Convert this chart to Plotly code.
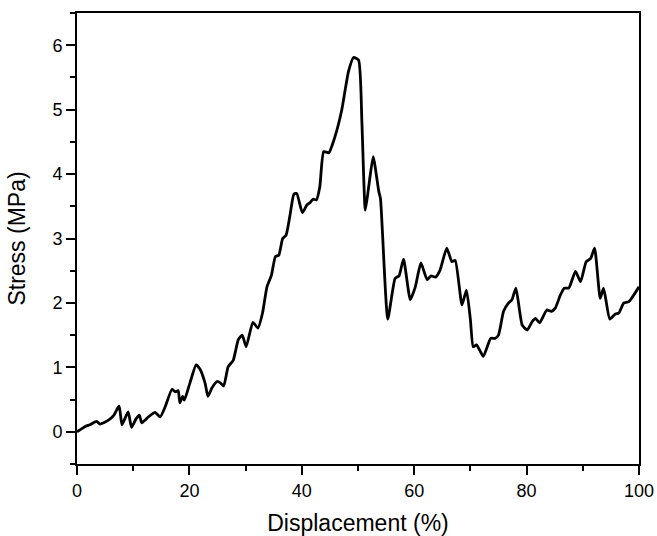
import plotly.graph_objects as go

# Stress–displacement curve (displacement in %, stress in MPa)
displacement = [
    0.0, 1.4, 2.3, 3.5, 4.1, 5.6, 6.5, 7.5, 8.0, 9.1, 9.7, 10.5, 11.1, 11.5,
    12.7, 13.9, 14.8, 15.7, 16.9, 17.5, 18.0, 18.3, 18.8, 19.1, 20.1, 21.2,
    21.9, 22.8, 23.3, 24.0, 24.9, 25.5, 26.1, 26.9, 27.8, 28.7, 29.4, 30.1,
    31.3, 32.2, 33.0, 33.8, 34.6, 35.3, 35.9, 36.6, 37.2, 37.9, 38.6, 39.1,
    40.1, 40.9, 41.5, 42.0, 42.6, 43.2, 43.9, 44.8, 45.9, 47.1, 48.3, 49.2,
    50.1, 50.7, 51.3, 51.9, 52.7, 53.7, 54.0, 55.3, 56.6, 57.3, 58.1, 59.3,
    60.2, 61.2, 62.3, 63.0, 63.8, 64.6, 65.8, 66.7, 67.3, 68.5, 69.3, 70.0,
    70.5, 71.1, 72.3, 73.6, 74.4, 75.0, 75.9, 76.8, 77.4, 78.1, 79.2, 80.1,
    81.0, 81.6, 82.3, 83.6, 84.4, 85.1, 86.0, 86.7, 87.5, 88.7, 89.6, 90.6,
    91.4, 92.1, 93.1, 93.7, 94.8, 95.8, 96.4, 97.3, 98.2, 100.0,
]
stress = [
    0.00, 0.08, 0.11, 0.16, 0.12, 0.18, 0.25, 0.40, 0.11, 0.31, 0.07, 0.20,
    0.26, 0.14, 0.23, 0.30, 0.23, 0.39, 0.66, 0.62, 0.64, 0.45, 0.55, 0.49,
    0.76, 1.04, 0.97, 0.75, 0.55, 0.68, 0.78, 0.76, 0.71, 1.01, 1.11, 1.43,
    1.50, 1.32, 1.70, 1.61, 1.84, 2.25, 2.43, 2.72, 2.74, 3.00, 3.05, 3.36,
    3.69, 3.70, 3.40, 3.52, 3.56, 3.61, 3.60, 3.80, 4.35, 4.33, 4.58, 4.99,
    5.59, 5.81, 5.77, 4.79, 3.44, 3.80, 4.27, 3.73, 3.62, 1.75, 2.38, 2.42,
    2.68, 2.05, 2.25, 2.62, 2.36, 2.42, 2.40, 2.51, 2.85, 2.64, 2.66, 1.97,
    2.20, 1.74, 1.32, 1.35, 1.17, 1.45, 1.45, 1.50, 1.87, 2.00, 2.05, 2.23,
    1.66, 1.58, 1.71, 1.76, 1.69, 1.89, 1.87, 1.92, 2.12, 2.23, 2.23, 2.49,
    2.33, 2.64, 2.69, 2.85, 2.07, 2.23, 1.75, 1.83, 1.84, 2.00, 2.02, 2.25,
]

x_ticks = [0, 20, 40, 60, 80, 100]
y_ticks = [0, 1, 2, 3, 4, 5, 6]

font_family = "Liberation Sans, Arial, sans-serif"

fig = go.Figure(
    go.Scatter(
        x=displacement,
        y=stress,
        mode="lines",
        line=dict(color="black", width=2.8, shape="spline", smoothing=0.5),
        showlegend=False,
        hoverinfo="skip",
    )
)

axis_common = dict(
    showgrid=False,
    zeroline=False,
    showline=True,
    linecolor="black",
    linewidth=2,
    mirror=True,
    ticks="outside",
    ticklen=9,
    tickwidth=2,
    tickcolor="black",
    tickfont=dict(family=font_family, size=18, color="black"),
)

fig.update_xaxes(
    **axis_common,
    range=[0, 100],
    tickvals=x_ticks,
    ticktext=[str(v) for v in x_ticks],
    minor=dict(ticks="outside", ticklen=5, tickwidth=2, tickcolor="black", dtick=10),
    title=dict(text="Displacement (%)", font=dict(family=font_family, size=23, color="black"), standoff=15),
)
fig.update_yaxes(
    **axis_common,
    range=[-0.5, 6.5],
    tickvals=y_ticks,
    ticktext=[str(v) for v in y_ticks],
    minor=dict(ticks="outside", ticklen=5, tickwidth=2, tickcolor="black", dtick=0.5, tick0=-0.5),
    title=dict(text="Stress (MPa)", font=dict(family=font_family, size=23, color="black"), standoff=20),
)

fig.update_layout(
    width=657,
    height=536,
    margin=dict(l=77, r=18, t=13, b=72, autoexpand=False),
    plot_bgcolor="white",
    paper_bgcolor="white",
)

fig.write_html("out.html")
